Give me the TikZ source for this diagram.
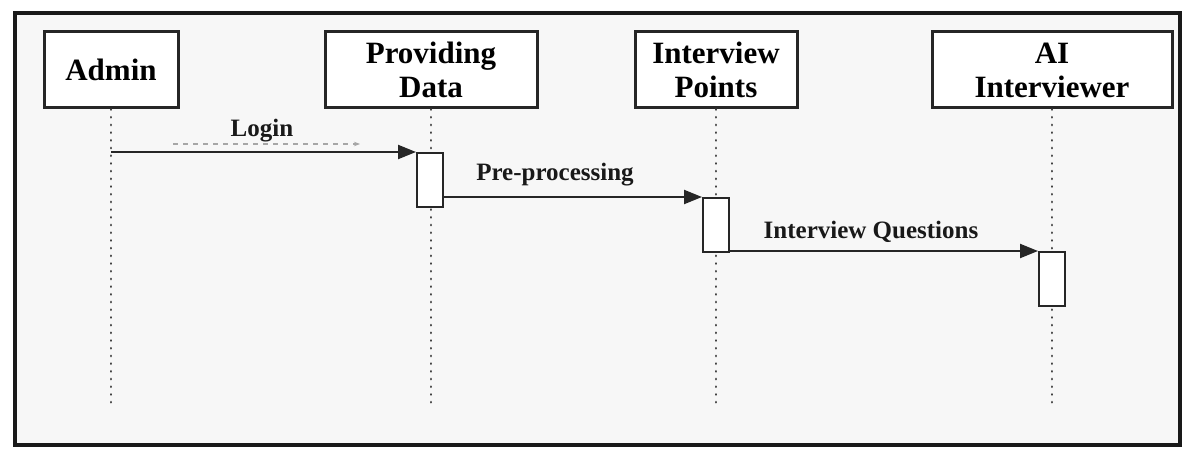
\documentclass[tikz,border=0pt]{standalone}
\usepackage{fontspec}
\setmainfont{Liberation Serif}
\usetikzlibrary{arrows.meta}

\tikzset{
  obj/.style={draw=black!85, line width=3pt, fill=white, align=center,
    minimum height=76pt, inner sep=0pt,
    font=\fontsize{31}{34}\selectfont\bfseries},
  act/.style={draw=black!85, line width=2pt, fill=white,
    minimum width=26pt, minimum height=54pt, inner sep=0pt},
  life/.style={line width=2.8pt, line cap=round, dash pattern=on 0.1pt off 7.6pt, black!75},
  msg/.style={line width=2.2pt, black!85, -{Triangle[length=18pt,width=14pt]}},
  msglabel/.style={font=\fontsize{25}{28}\selectfont\bfseries, text=black!90}
}

\begin{document}
\begin{tikzpicture}[x=1pt, y=-1pt]
  \useasboundingbox (0,0) rectangle (1183,449);
  \fill[white] (0,0) rectangle (1183,449);

  % outer frame
  \draw[line width=3.8pt, black!90, fill=black!3] (15,13) rectangle (1180,445);

  % participants
  \node[obj, minimum width=134pt] (admin) at (111,70) {Admin};
  \node[obj, minimum width=212pt] (data)  at (431,70) {Providing\\Data};
  \node[obj, minimum width=162pt] (points) at (716,70) {Interview\\Points};
  \node[obj, minimum width=240pt] (ai)    at (1052,70) {AI\\Interviewer};

  % lifeline ends
  \coordinate (adminEnd)  at (admin.south |- 0,408);
  \coordinate (dataEnd)   at (data.south |- 0,408);
  \coordinate (pointsEnd) at (points.south |- 0,408);
  \coordinate (aiEnd)     at (ai.south |- 0,408);

  \draw[life] (admin.south)  -- (adminEnd);
  \draw[life] (data.south)   -- (dataEnd);
  \draw[life] (points.south) -- (pointsEnd);
  \draw[life] (ai.south)     -- (aiEnd);

  % activation bars
  \node[act] (act1) at (430,180) {};
  \node[act] (act2) at (716,225) {};
  \node[act] (act3) at (1052,279) {};

  % messages
  \coordinate (loginStart) at (admin.south |- act1.north west);
  \draw[msg] (loginStart) -- (act1.north west);
  \node[msglabel] (login) at (262,131) {Login};
  \coordinate (ghostA) at (173,144);
  \coordinate (ghostB) at (360,144);
  \draw[black!35, line width=1.2pt, dash pattern=on 5pt off 5pt, -{Stealth[length=6pt]}] (ghostA) -- (ghostB);

  \coordinate (preStart) at (act1.east |- act2.north west);
  \draw[msg] (preStart) -- (act2.north west);
  \node[msglabel] (pre) at (555,175) {Pre-processing};

  \coordinate (iqStart) at (act2.east |- act3.north west);
  \draw[msg] (iqStart) -- (act3.north west);
  \node[msglabel] (iq) at (871,232) {Interview Questions};
\end{tikzpicture}
\end{document}
